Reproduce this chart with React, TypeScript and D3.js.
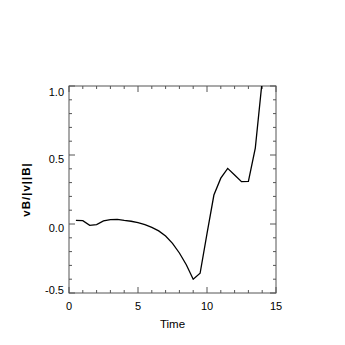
import React from "react";
import * as d3 from "d3";

const times = [0.5, 1.0, 1.5, 2.0, 2.5, 3.0, 3.5, 4.0, 4.5, 5.0, 5.5, 6.0, 6.5, 7.0, 7.5, 8.0, 8.5, 9.0, 9.5, 10.0, 10.5, 11.0, 11.5, 12.0, 12.5, 13.0, 13.5, 14.0];
const values = [0.027, 0.024, -0.01, -0.004, 0.022, 0.032, 0.034, 0.026, 0.02, 0.01, -0.005, -0.025, -0.05, -0.087, -0.14, -0.21, -0.295, -0.40, -0.357, -0.07, 0.21, 0.332, 0.403, 0.355, 0.307, 0.309, 0.55, 1.04];
const xTicks = [0, 5, 10, 15];
const yTicks = [-0.5, 0.0, 0.5, 1.0];
const yTickLabels = ["-0.5", "0.0", "0.5", "1.0"];
const xLabel = "Time";

export default function App() {
  const W = 345, H = 345;
  const L = 69, R = 276, T = 86, B = 293;
  const x = d3.scaleLinear().domain([0, 15]).range([L, R]);
  const y = d3.scaleLinear().domain([-0.5, 1.0]).range([B, T]);
  const line = d3.line<number>().x((_, i) => x(times[i])).y((d) => y(d));
  const xMinor = d3.range(0, 15.001, 1);
  const yMinor = d3.range(-0.5, 1.0001, 0.1);
  const axisColor = "#555";
  const font = "'Liberation Sans', Arial, Helvetica, sans-serif";
  const yLabelDy = [-3, 3.5, 3.5, 6];
  return (
    <svg width={W} height={H} style={{ position: "absolute", left: 0, top: 0, background: "#fff" }}>
      <defs>
        <clipPath id="plotclip">
          <rect x={L} y={T} width={R - L} height={B - T} />
        </clipPath>
      </defs>
      <g stroke={axisColor} strokeWidth={1} fill="none">
        <rect x={L} y={T} width={R - L} height={B - T} />
        {xMinor.map((t) => {
          const len = xTicks.includes(Math.round(t)) && Math.abs(t % 5) < 1e-6 ? 6 : 3;
          return (
            <g key={"xm" + t}>
              <line x1={x(t)} x2={x(t)} y1={B} y2={B - len} />
              <line x1={x(t)} x2={x(t)} y1={T} y2={T + len} />
            </g>
          );
        })}
        {yMinor.map((v, i) => {
          const len = i % 5 === 0 ? 6 : 3;
          return (
            <g key={"ym" + i}>
              <line x1={L} x2={L + len} y1={y(v)} y2={y(v)} />
              <line x1={R} x2={R - len} y1={y(v)} y2={y(v)} />
            </g>
          );
        })}
      </g>
      <path d={line(values) || ""} fill="none" stroke="#000" strokeWidth={1.3} clipPath="url(#plotclip)" />
      <g fontFamily={font} fontSize={11} fill="#000">
        {xTicks.map((t) => (
          <text key={"xt" + t} x={x(t)} y={B + 17} textAnchor="middle">{t}</text>
        ))}
        {yTicks.map((v, i) => (
          <text key={"yt" + v} x={L - 5} y={y(v) + yLabelDy[i]} textAnchor="end" dominantBaseline="central">{yTickLabels[i]}</text>
        ))}
        <text x={(L + R) / 2} y={B + 35} textAnchor="middle" fontSize={11.5}>{xLabel}</text>
        <text transform={`translate(30, ${(T + B) / 2}) rotate(-90)`} textAnchor="middle" fontSize={11.5} fontWeight="bold" letterSpacing={1}>
          vB/|v||B|
        </text>
      </g>
    </svg>
  );
}
